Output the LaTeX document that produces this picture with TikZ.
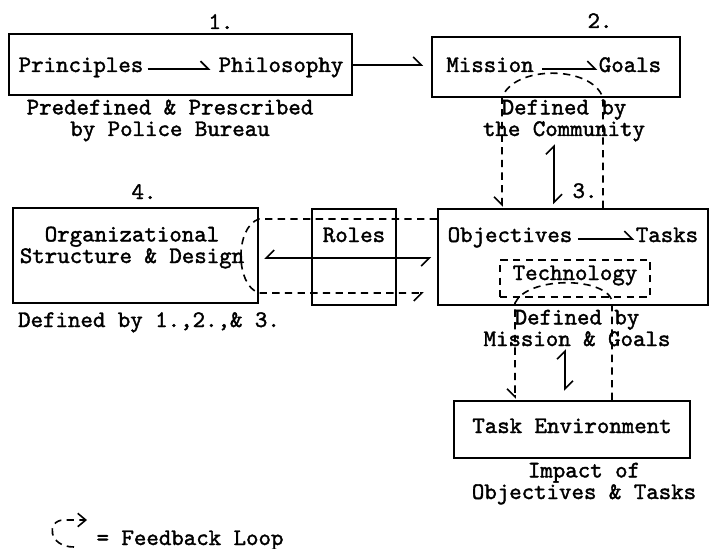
\documentclass[tikz,border=0pt]{standalone}
\usepackage{fontspec}
\setmonofont{lmmono10-regular}[Extension=.otf,FakeBold=1.6]
\usetikzlibrary{arrows.meta,fit}
\newcommand\typeface{\fontsize{17.8}{16.2}\selectfont\ttfamily}

\begin{document}
\begin{tikzpicture}
[x=0.75pt,y=-0.75pt,
  boxDecorate/.style={draw,line width=1.4pt,inner sep=0pt},%
  dashBoxDecorate/.style={draw,line width=1.2pt,dash pattern=on 5.5pt off 4pt,inner sep=0pt},%
  textDecorate/.style={font=\typeface,inner sep=0pt,anchor=base,align=center},%
  lineDecorate/.style={line width=1.2pt},%
  loopDecorate/.style={line width=1.2pt,dash pattern=on 5.5pt off 4pt,
    -{Straight Barb[right,length=6pt,width=12pt]}},%
  oneWay/.style={lineDecorate,-{Straight Barb[left,length=6pt,width=12pt]}},%
  twoWay/.style={lineDecorate,
    {Straight Barb[left,length=6pt,width=12pt]}-{Straight Barb[left,length=6pt,width=12pt]}},%
  twoWaySwap/.style={lineDecorate,
    {Straight Barb[right,length=6pt,width=12pt]}-{Straight Barb[right,length=6pt,width=12pt]}}]
\useasboundingbox (0,0) rectangle (713,549);
%% boxes
\foreach \boxname/\xa/\ya/\xb/\yb in {
  prin/9/34/352/95, miss/432/37/680/97, obj/438/209/708/305,
  org/13/208/258/303, roles/312/209/396/305, env/454/401/690/458}
{
  \node (\boxname) [boxDecorate,fit={(\xa,\ya) (\xb,\yb)}] {};
}
\node (tech) [dashBoxDecorate,fit={(500,260) (650,297)}] {};
%% texts (y is the baseline of the last line)
\foreach \textname/\x/\y/\words in {
  one/221/29/{1.}, two/600/28/{2.}, three/585/198/{3.}, four/144/199/{4.},
  princ/81/72/Principles, philo/281/72/Philosophy,
  predef/170/136/{Predefined \& Prescribed\\by Police Bureau},
  mission/490/72/Mission, goals/630/72/Goals,
  defcom/564/136/{Defined by\\the Community},
  objective/510/242/Objectives, tasks/667/242/Tasks,
  technology/575/280/Technology,
  defmis/577/346/{Defined by\\Mission \& Goals},
  organiz/132/263/{Organizational\\Structure \& Design},
  role/354/242/Roles, defall/149/327/{Defined by 1.,2.,\& 3.},
  environ/572/433/{Task Environment},
  impact/584/499/{Impact of\\Objectives \& Tasks},
  legend/190/545/{= Feedback Loop}}
{
  \node (\textname) at (\x,\y) [textDecorate] {\words};
}
%% arrows inside the boxes
\draw[oneWay,shorten <=3pt,shorten >=6pt] (princ.mid east) -- (philo.mid west);
\draw[oneWay,shorten <=6pt,shorten >=1pt] (mission.mid east) -- (goals.mid west);
\draw[oneWay,shorten <=4pt,shorten >=1pt] (objective.mid east) -- (tasks.mid west);
%% solid connectors
\draw[oneWay,shorten >=6pt] (prin.east |- 0,65) -- (miss.west |- 0,65);
\draw[twoWay,shorten <=2pt,shorten >=3pt] (554,0 |- defcom.south) -- (554,0 |- obj.north);
\draw[twoWay,shorten <=2pt,shorten >=7pt] (565,0 |- defmis.south) -- (565,0 |- env.north);
\draw[twoWaySwap,shorten <=4.5pt,shorten >=4pt] (obj.west |- 0,258) -- (org.east |- 0,258);
%% feedback loops
\draw[loopDecorate,shorten >=1pt] (603,0 |- obj.north) -- (603,0 |- miss.south)
  .. controls +(-11,-33) and +(11,-33) .. (502,0 |- miss.south) -- (502,0 |- obj.north);
\draw[loopDecorate,shorten >=1pt] (612,0 |- env.north) -- (612,300)
  .. controls +(-10,-24) and +(12,-26) .. (515,303) -- (515,0 |- env.north);
\draw[loopDecorate,shorten >=10pt] (obj.west |- 0,219) -- (org.east |- 0,219)
  .. controls +(-24,8) and +(-24,-8) .. (org.east |- 0,293) -- (obj.west |- 0,293);
%% key
\coordinate (keyEnd) at (87,520);
\draw[loopDecorate,-{Straight Barb[length=6pt,width=10pt]}] (74,547)
  .. controls (48,547) and (46,520) .. (64,520) -- (keyEnd);
\end{tikzpicture}
\end{document}
